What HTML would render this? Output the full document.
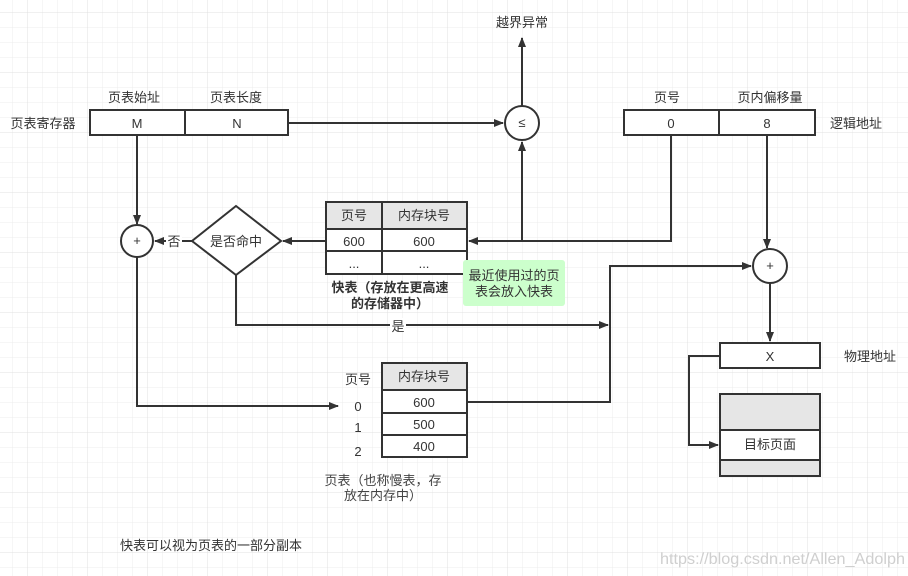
<!DOCTYPE html>
<html><head><meta charset="utf-8"><style>
html,body{margin:0;padding:0;background:#fff;}
svg{display:block;}
text{font-family:"Liberation Sans","Noto Sans CJK SC",sans-serif;font-size:13px;fill:#333;}
</style></head><body>
<svg width="908" height="576" viewBox="0 0 908 576" xmlns="http://www.w3.org/2000/svg">
<defs>
<pattern id="g" x="12" y="12" width="15" height="15" patternUnits="userSpaceOnUse">
<path d="M0 0H15M0 0V15" stroke="#ececec" stroke-width="1" fill="none"/></pattern>
<pattern id="G" x="27" y="12" width="60" height="60" patternUnits="userSpaceOnUse">
<path d="M0 0H60M0 0V60" stroke="#e0e0e0" stroke-width="1" fill="none"/></pattern>
<marker id="a" markerWidth="10" markerHeight="8" refX="9" refY="4" orient="auto" markerUnits="userSpaceOnUse">
<path d="M0 0L10 4L0 8Z" fill="#333"/></marker>
</defs>
<rect width="908" height="576" fill="#fff"/>
<rect width="908" height="576" fill="url(#g)"/>
<rect width="908" height="576" fill="url(#G)"/>
<g stroke="#333" stroke-width="2" fill="none">
<rect x="90" y="110" width="198" height="25" fill="#fff"/>
<line x1="185" y1="110" x2="185" y2="135"/>
<rect x="624" y="110" width="191" height="25" fill="#fff"/>
<line x1="719" y1="110" x2="719" y2="135"/>
<ellipse cx="522" cy="123" rx="17" ry="17" fill="#fff"/>
<line x1="522" y1="106" x2="522" y2="38" marker-end="url(#a)"/>
<line x1="288" y1="123" x2="503" y2="123" marker-end="url(#a)"/>
<line x1="137" y1="135" x2="137" y2="224" marker-end="url(#a)"/>
<circle cx="137" cy="241" r="16" fill="#fff"/>
<path d="M236 206L281 241L236 275L192 241Z" fill="#fff"/>
<line x1="192" y1="241" x2="155" y2="241" marker-end="url(#a)"/>
<line x1="326" y1="241" x2="283" y2="241" marker-end="url(#a)"/>
<rect x="326" y="202" width="141" height="27" fill="#e6e6e6"/>
<rect x="326" y="229" width="141" height="45" fill="#fff"/>
<line x1="326" y1="251" x2="467" y2="251"/>
<line x1="382" y1="202" x2="382" y2="274"/>
<polyline points="671,135 671,241 469,241" marker-end="url(#a)"/>
<line x1="522" y1="241" x2="522" y2="142" marker-end="url(#a)"/>
<line x1="767" y1="135" x2="767" y2="248" marker-end="url(#a)"/>
<circle cx="770" cy="266" r="17" fill="#fff"/>
<polyline points="236,275 236,325 608,325" marker-end="url(#a)"/>
<polyline points="467,402 610,402 610,266 751,266" marker-end="url(#a)"/>
<line x1="770" y1="283" x2="770" y2="341" marker-end="url(#a)"/>
<rect x="720" y="343" width="100" height="25" fill="#fff"/>
<rect x="720" y="394" width="100" height="82" fill="#e6e6e6"/>
<rect x="720" y="430" width="100" height="30" fill="#fff"/>
<polyline points="720,356 689,356 689,445 718,445" marker-end="url(#a)"/>
<rect x="382" y="363" width="85" height="27" fill="#e6e6e6"/>
<rect x="382" y="390" width="85" height="67" fill="#fff"/>
<line x1="382" y1="413" x2="467" y2="413"/>
<line x1="382" y1="435" x2="467" y2="435"/>
<polyline points="137,257 137,406 338,406" marker-end="url(#a)"/>
</g>
<rect x="463" y="260" width="102" height="46" rx="3" fill="#ccffcc"/>
<g text-anchor="middle">
<text x="134" y="102">页表始址</text>
<text x="236" y="102">页表长度</text>
<text x="43" y="128">页表寄存器</text>
<text x="137" y="128" font-size="14">M</text>
<text x="237" y="128" font-size="14">N</text>
<text x="522" y="127" font-size="10">≤</text>
<text x="522" y="27">越界异常</text>
<text x="667" y="102">页号</text>
<text x="770" y="102">页内偏移量</text>
<text x="856" y="128">逻辑地址</text>
<text x="671" y="128" font-size="14">0</text>
<text x="767" y="128" font-size="14">8</text>
<text x="137" y="245" font-size="10">+</text>
<text x="770" y="270" font-size="10">+</text>
<rect x="166" y="233" width="16" height="16" fill="#fff"/>
<text x="174" y="246">否</text>
<text x="236" y="246">是否命中</text>
<text x="354" y="220">页号</text>
<text x="424" y="220">内存块号</text>
<text x="354" y="246">600</text>
<text x="424" y="246">600</text>
<text x="354" y="268" font-size="9">...</text>
<text x="424" y="268" font-size="9">...</text>
<text x="390" y="292" font-weight="bold">快表（存放在更高速</text>
<text x="390" y="308" font-weight="bold">的存储器中）</text>
<text x="514" y="280">最近使用过的页</text>
<text x="514" y="296">表会放入快表</text>
<rect x="390" y="318" width="16" height="14" fill="#fff"/>
<text x="398" y="331">是</text>
<text x="770" y="361" font-size="14">X</text>
<text x="870" y="361">物理地址</text>
<text x="770" y="449">目标页面</text>
<text x="358" y="384">页号</text>
<text x="424" y="381">内存块号</text>
<text x="358" y="411">0</text>
<text x="358" y="432">1</text>
<text x="358" y="456">2</text>
<text x="424" y="407">600</text>
<text x="424" y="429">500</text>
<text x="424" y="451">400</text>
<text x="383" y="485" style="fill:#444">页表（也称慢表，存</text>
<text x="383" y="500" style="fill:#444">放在内存中）</text>
</g>
<text x="120" y="550">快表可以视为页表的一部分副本</text>
<text x="660" y="564" font-size="16" textLength="245" lengthAdjust="spacingAndGlyphs" style="fill:#cfcfcf;font-size:16px">https://blog.csdn.net/Allen_Adolph</text>
</svg>
</body></html>
